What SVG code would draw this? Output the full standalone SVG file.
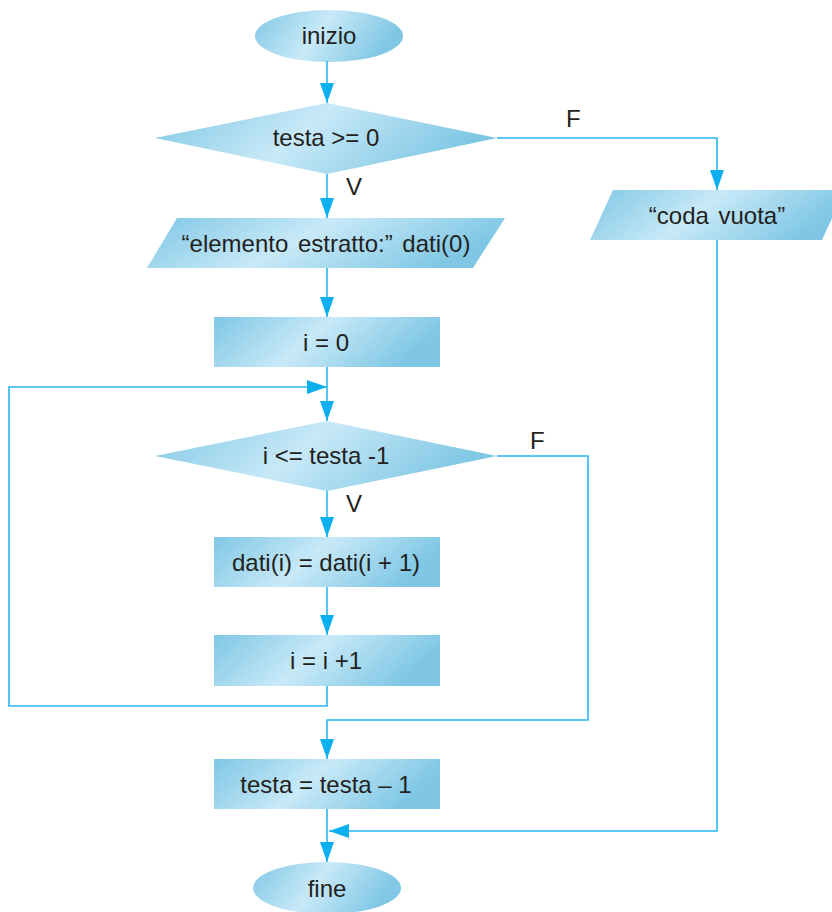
<svg xmlns="http://www.w3.org/2000/svg" width="832" height="912" viewBox="0 0 832 912">
<defs>
  <linearGradient id="fillg" x1="0" y1="0" x2="1" y2="0.25">
    <stop offset="0" stop-color="#7fc7e4"/>
    <stop offset="0.5" stop-color="#c8e9f8"/>
    <stop offset="1" stop-color="#7fc7e4"/>
  </linearGradient>
  <marker id="arr" markerUnits="userSpaceOnUse" markerWidth="20" markerHeight="14" refX="20" refY="7" orient="auto">
    <path d="M0,0 L20,7 L0,14 z" fill="#0cb0ee"/>
  </marker>
  <style>
    .shape { fill: url(#fillg); stroke: none; }
    .lbl { font-family: "Liberation Sans", Arial, sans-serif; font-size: 24px; fill: #231f20; text-anchor: middle; }
    .tag { font-family: "Liberation Sans", Arial, sans-serif; font-size: 24px; fill: #231f20; }
    .con { fill: none; stroke: #29b8ef; stroke-width: 1.6; }
  </style>
</defs>
<rect width="832" height="912" fill="#ffffff"/>

<g id="nodes">
  <g id="inizio">
    <ellipse class="shape" cx="329" cy="36" rx="74" ry="26"/>
    <text class="lbl" x="329" y="44">inizio</text>
  </g>
  <g id="cond1">
    <polygon class="shape" points="327,103 497,138 327,174 155,138"/>
    <text class="lbl" x="326" y="146">testa &gt;= 0</text>
  </g>
  <g id="out1">
    <polygon class="shape" points="177,218 505,218 473,268 147,268"/>
    <text class="lbl" x="326" y="252" word-spacing="3">“elemento estratto:” dati(0)</text>
  </g>
  <g id="coda">
    <polygon class="shape" points="613,190 845,190 822,240 590,240"/>
    <text class="lbl" x="717" y="224" word-spacing="3">“coda vuota”</text>
  </g>
  <g id="init">
    <rect class="shape" x="214" y="317" width="226" height="50"/>
    <text class="lbl" x="326" y="351">i = 0</text>
  </g>
  <g id="cond2">
    <polygon class="shape" points="327,421 497,456 327,491 155,456"/>
    <text class="lbl" x="326" y="464">i &lt;= testa -1</text>
  </g>
  <g id="shift">
    <rect class="shape" x="214" y="537" width="226" height="50"/>
    <text class="lbl" x="326" y="571">dati(i) = dati(i + 1)</text>
  </g>
  <g id="inc">
    <rect class="shape" x="214" y="635" width="226" height="51"/>
    <text class="lbl" x="326" y="669">i = i +1</text>
  </g>
  <g id="dec">
    <rect class="shape" x="214" y="759" width="226" height="50"/>
    <text class="lbl" x="326" y="793">testa = testa – 1</text>
  </g>
  <g id="fine">
    <ellipse class="shape" cx="327" cy="888" rx="74" ry="26"/>
    <text class="lbl" x="327" y="897">fine</text>
  </g>
</g>

<g id="connectors">
  <path class="con" d="M327,61 V103" marker-end="url(#arr)"/>
  <path class="con" d="M327,174 V218" marker-end="url(#arr)"/>
  <path class="con" d="M497,138 H717 V190" marker-end="url(#arr)"/>
  <path class="con" d="M327,268 V317" marker-end="url(#arr)"/>
  <path class="con" d="M327,367 V421" marker-end="url(#arr)"/>
  <path class="con" d="M327,491 V537" marker-end="url(#arr)"/>
  <path class="con" d="M327,587 V635" marker-end="url(#arr)"/>
  <path class="con" d="M327,686 V706 H9 V387 H327" marker-end="url(#arr)"/>
  <path class="con" d="M497,456 H588 V720 H327 V759" marker-end="url(#arr)"/>
  <path class="con" d="M327,809 V862" marker-end="url(#arr)"/>
  <path class="con" d="M717,240 V831 H329" marker-end="url(#arr)"/>
  <text class="tag" x="566" y="127">F</text>
  <text class="tag" x="346" y="195">V</text>
  <text class="tag" x="530" y="449">F</text>
  <text class="tag" x="346" y="512">V</text>
</g>
</svg>
